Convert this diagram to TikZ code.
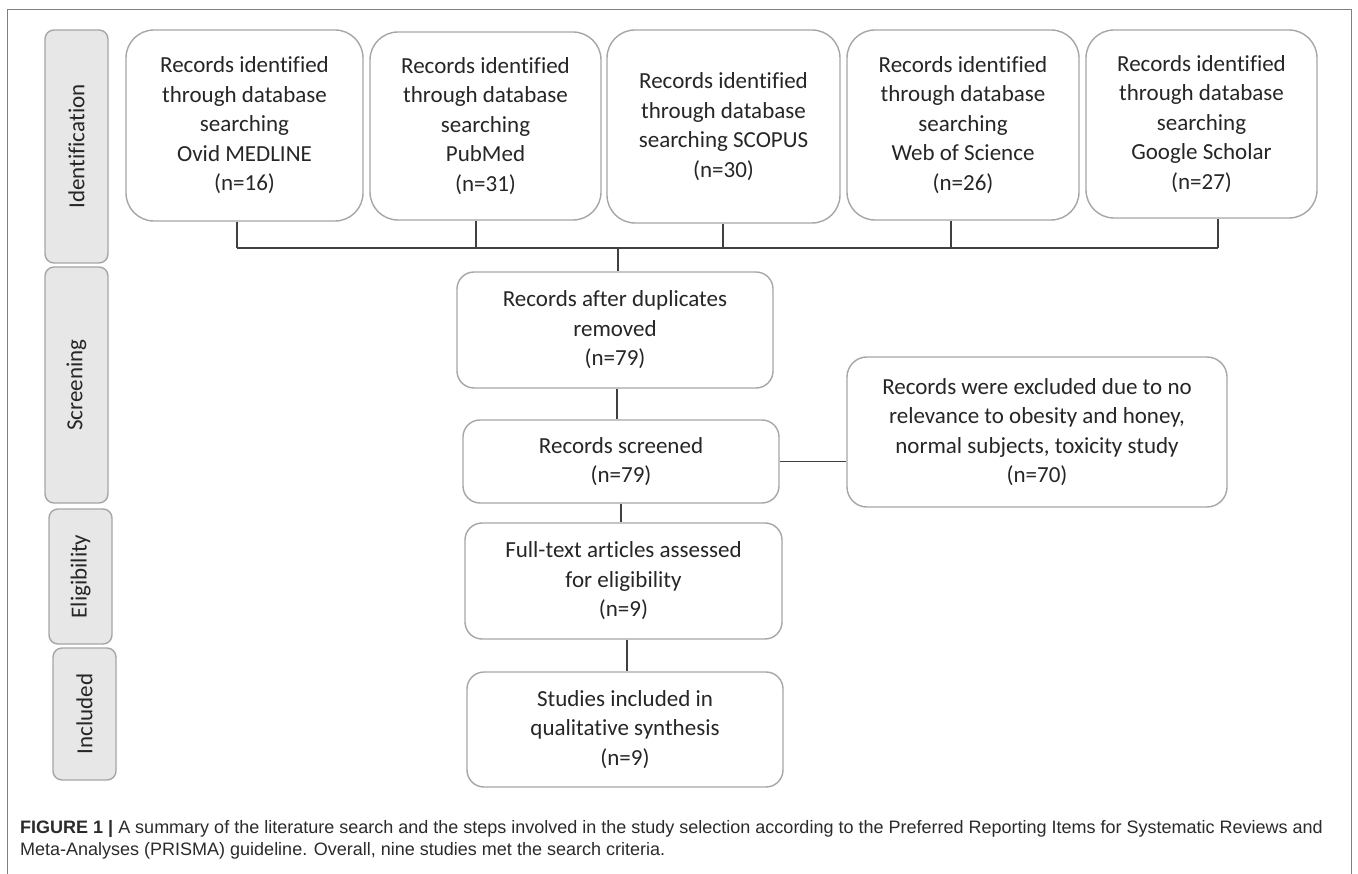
\documentclass[tikz,border=0pt]{standalone}
\usepackage{fontspec}
\newfontfamily\calib[Ligatures=NoCommon]{Carlito}
\newfontfamily\capf{Liberation Sans}
\usetikzlibrary{calc}
\definecolor{boxline}{HTML}{A6A6A6}
\definecolor{phasefill}{HTML}{E7E7E7}
\definecolor{connc}{HTML}{404040}
\definecolor{txt}{HTML}{262626}
\definecolor{framec}{HTML}{808080}
\definecolor{captxt}{HTML}{2B2B2B}
\begin{document}
\begin{tikzpicture}[x=1pt,y=-1pt,
  box/.style={draw=boxline, line width=1.4pt, fill=white, text=txt, align=center, inner sep=0pt, font=\calib\fontsize{23}{29.5}\selectfont},
  topbox/.style={box, rounded corners=28pt},
  midbox/.style={box, rounded corners=17pt},
  phase/.style={draw=boxline, line width=1.4pt, fill=phasefill, text=txt, rounded corners=9pt, inner sep=0pt, rotate=90, minimum height=63pt, font=\calib\fontsize{23}{29.5}\selectfont},
  connline/.style={draw=connc, line width=1.3pt},
  captext/.style={anchor=base west, inner sep=0pt, text=captxt, font=\capf\fontsize{18}{22}\selectfont}]

\useasboundingbox (0,0) rectangle (1358,874);
\fill[white] (0,0) rectangle (1358,874);
\draw[draw=framec, line width=1pt] (7,890) -- (7,10) -- (1351,10) -- (1351,890);

% phase labels
\node[phase, minimum width=233pt] (pid) at (76.5,146.5) {Identification};
\node[phase, minimum width=236pt] (pscr) at (76.5,385) {Screening};
\node[phase, minimum width=135pt] (pel) at (80.5,576.5) {Eligibility};
\node[phase, minimum width=132pt] (pin) at (84.5,714) {Included};

% top boxes
\node[topbox, minimum width=237pt, minimum height=191pt] (b1) at (244.5,125.5) {Records identified\\through database\\searching\\Ovid MEDLINE\\(n=16)};
\node[topbox, minimum width=231pt, minimum height=188pt] (b2) at (485.5,126) {Records identified\\through database\\searching\\PubMed\\(n=31)};
\node[topbox, minimum width=233pt, minimum height=193pt] (b3) at (723.5,126.5) {Records identified\\through database\\searching SCOPUS\\(n=30)};
\node[topbox, minimum width=232pt, minimum height=190pt] (b4) at (963,125) {Records identified\\through database\\searching\\Web of Science\\(n=26)};
\node[topbox, minimum width=231pt, minimum height=188pt] (b5) at (1201.5,124) {Records identified\\through database\\searching\\Google Scholar\\(n=27)};

% lower boxes
\node[midbox, minimum width=316pt, minimum height=116pt] (dup) at (615,330) {Records after duplicates\\removed\\(n=79)};
\node[midbox, minimum width=316pt, minimum height=83pt] (scr) at (621,461.5) {Records screened\\(n=79)};
\node[midbox, rounded corners=20pt, minimum width=380pt, minimum height=150pt] (exc) at (1037,432) {Records were excluded due to no\\relevance to obesity and honey,\\normal subjects, toxicity study\\(n=70)};
\node[midbox, minimum width=317pt, minimum height=116pt] (full) at (623.5,581) {Full-text articles assessed\\for eligibility\\(n=9)};
\node[midbox, minimum width=316pt, minimum height=115pt] (stud) at (625,729.5) {Studies included in\\qualitative synthesis\\(n=9)};

% junctions
\coordinate (j1) at (237,248);
\coordinate (j2) at (476,248);
\coordinate (j3) at (723,248);
\coordinate (j4) at (951,248);
\coordinate (j5) at (1218,248);
\coordinate (hub) at (618,248);
\coordinate (c1) at (617,0);
\coordinate (c2) at (621,0);
\coordinate (c3) at (627,0);

\draw[connline] (b1.south -| j1) -- (j1);
\draw[connline] (b2.south -| j2) -- (j2);
\draw[connline] (b3.south -| j3) -- (j3);
\draw[connline] (b4.south -| j4) -- (j4);
\draw[connline] (b5.south -| j5) -- (j5);
\draw[connline] (j1) -- (j5);
\draw[connline] (hub) -- (hub |- dup.north);
\draw[connline] (dup.south -| c1) -- (scr.north -| c1);
\draw[connline] (scr.east) -- (scr.east -| exc.west);
\draw[connline] (scr.south -| c2) -- (full.north -| c2);
\draw[connline] (full.south -| c3) -- (stud.north -| c3);

% caption
\node[captext] (cap1) at (20,833) {\textbf{FIGURE 1 |} A summary of the literature search and the steps involved in the study selection according to the Preferred Reporting Items for Systematic Reviews and};
\node[captext] (cap2) at (20,855) {Meta-Analyses (PRISMA) guideline. Overall, nine studies met the search criteria.};
\end{tikzpicture}
\end{document}
